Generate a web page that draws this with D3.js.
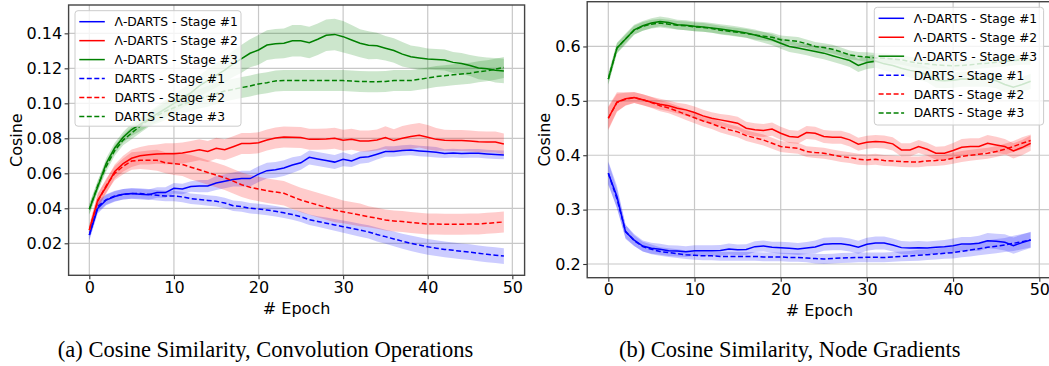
<!DOCTYPE html>
<html>
<head>
<meta charset="utf-8">
<script src="https://cdn.jsdelivr.net/npm/d3@7"></script>
<style>
  body { margin: 0; background: #fff; }
  svg { display: block; }
  text { font-family: 'DejaVu Sans', sans-serif; fill: #000; }
  .caption { font-family: 'Liberation Serif', 'Times New Roman', serif; }
</style>
</head>
<body>
<script>
// epochs 0..49
const epochs = d3.range(50);
const xTicks = [0, 10, 20, 30, 40, 50];

const labels = [
  'Λ-DARTS - Stage #1', 'Λ-DARTS - Stage #2', 'Λ-DARTS - Stage #3',
  'DARTS - Stage #1', 'DARTS - Stage #2', 'DARTS - Stage #3',
];

// (a) convolution operations
const convLambda1 = [0.0247, 0.040, 0.0447, 0.0467, 0.048, 0.0485, 0.048, 0.0478, 0.049, 0.049,
  0.0514, 0.051, 0.0525, 0.0527, 0.0527, 0.0545, 0.0555, 0.0565, 0.057, 0.057,
  0.0595, 0.0615, 0.062, 0.063, 0.0647, 0.066, 0.0691, 0.0682, 0.0673, 0.0664,
  0.068, 0.0671, 0.069, 0.0695, 0.0709, 0.0724, 0.0724, 0.073, 0.0733, 0.0728,
  0.0724, 0.072, 0.0713, 0.0716, 0.0713, 0.0714, 0.0714, 0.071, 0.0707, 0.0705];
const convLambda2 = [0.0276, 0.0447, 0.0523, 0.061, 0.0655, 0.0686, 0.070, 0.0706, 0.071, 0.0712,
  0.0712, 0.0716, 0.0725, 0.0735, 0.0725, 0.0743, 0.0735, 0.0752, 0.077, 0.077,
  0.0775, 0.079, 0.0802, 0.0808, 0.0806, 0.0804, 0.0794, 0.0794, 0.0796, 0.080,
  0.0789, 0.0794, 0.0785, 0.0785, 0.079, 0.0804, 0.0787, 0.080, 0.081, 0.0817,
  0.0806, 0.0794, 0.0789, 0.0787, 0.0787, 0.0785, 0.0781, 0.0779, 0.0779, 0.0768];
const convLambda3 = [0.0394, 0.0523, 0.0657, 0.0745, 0.0806, 0.085, 0.088, 0.091, 0.094, 0.097,
  0.100, 0.103, 0.106, 0.110, 0.113, 0.116, 0.119, 0.1225, 0.1255, 0.1286,
  0.1305, 0.1333, 0.134, 0.1343, 0.1358, 0.1358, 0.1347, 0.1366, 0.1389, 0.1394,
  0.1381, 0.1362, 0.1343, 0.1332, 0.1329, 0.1315, 0.1302, 0.1281, 0.1266, 0.1259,
  0.1253, 0.125, 0.1248, 0.1234, 0.1227, 0.1216, 0.1202, 0.1197, 0.1189, 0.1185];
const convDarts1 = [0.0247, 0.041, 0.045, 0.047, 0.048, 0.0485, 0.0485, 0.048, 0.0475, 0.047,
  0.047, 0.0465, 0.0455, 0.045, 0.0445, 0.044, 0.043, 0.0415, 0.041, 0.040,
  0.0396, 0.039, 0.0383, 0.0374, 0.0364, 0.0352, 0.0335, 0.0325, 0.0315, 0.0305,
  0.0295, 0.0285, 0.0275, 0.0265, 0.025, 0.0238, 0.0225, 0.0212, 0.020, 0.019,
  0.018, 0.0172, 0.0165, 0.016, 0.0154, 0.0149, 0.0143, 0.0137, 0.0132, 0.0127];
const convDarts2 = [0.0276, 0.044, 0.053, 0.060, 0.064, 0.067, 0.0675, 0.0675, 0.0675, 0.066,
  0.0655, 0.065, 0.0635, 0.062, 0.0605, 0.059, 0.0575, 0.0555, 0.0535, 0.052,
  0.051, 0.050, 0.0493, 0.0486, 0.0466, 0.0447, 0.0433, 0.0419, 0.0405, 0.039,
  0.038, 0.0371, 0.0362, 0.0352, 0.0343, 0.0333, 0.0328, 0.0324, 0.0319, 0.0314,
  0.031, 0.031, 0.0309, 0.0309, 0.0309, 0.031, 0.031, 0.0314, 0.0318, 0.0322];
const convDarts3 = [0.0394, 0.053, 0.064, 0.073, 0.079, 0.083, 0.087, 0.0905, 0.093, 0.0955,
  0.0975, 0.0995, 0.101, 0.1025, 0.104, 0.1055, 0.107, 0.108, 0.109, 0.1099,
  0.1111, 0.1118, 0.1128, 0.1131, 0.113, 0.113, 0.113, 0.113, 0.113, 0.113,
  0.113, 0.1127, 0.1125, 0.1124, 0.1124, 0.1125, 0.113, 0.113, 0.113, 0.1137,
  0.1145, 0.1153, 0.1157, 0.1163, 0.1168, 0.1172, 0.118, 0.1186, 0.1195, 0.1205];

// half widths of the shaded bands
const convLambda1Sd = [0.003, 0.003, 0.003, 0.003, 0.003, 0.003, 0.003, 0.003, 0.003, 0.003,
  0.003, 0.003, 0.003, 0.0035, 0.0035, 0.004, 0.004, 0.004, 0.0045, 0.0045,
  0.0045, 0.0045, 0.0045, 0.0045, 0.0045, 0.004, 0.004, 0.004, 0.004, 0.004,
  0.004, 0.0035, 0.0035, 0.0035, 0.003, 0.003, 0.003, 0.003, 0.003, 0.003,
  0.003, 0.003, 0.0025, 0.0025, 0.0025, 0.0025, 0.0025, 0.0025, 0.0025, 0.0025];
const convLambda2Sd = [0.003, 0.004, 0.004, 0.004, 0.0045, 0.005, 0.005, 0.0055, 0.0055, 0.006,
  0.006, 0.006, 0.006, 0.006, 0.006, 0.006, 0.006, 0.006, 0.006, 0.006,
  0.006, 0.006, 0.006, 0.006, 0.006, 0.006, 0.006, 0.006, 0.006, 0.006,
  0.006, 0.006, 0.006, 0.006, 0.006, 0.0065, 0.0065, 0.007, 0.007, 0.007,
  0.007, 0.0065, 0.006, 0.006, 0.006, 0.006, 0.006, 0.006, 0.006, 0.006];
const convLambda3Sd = [0.003, 0.003, 0.003, 0.003, 0.003, 0.0035, 0.004, 0.004, 0.0045, 0.005,
  0.005, 0.0055, 0.006, 0.006, 0.0065, 0.007, 0.007, 0.0075, 0.008, 0.008,
  0.0085, 0.0085, 0.0085, 0.0085, 0.009, 0.009, 0.009, 0.009, 0.009, 0.009,
  0.009, 0.0085, 0.008, 0.008, 0.0075, 0.007, 0.007, 0.007, 0.0065, 0.0065,
  0.006, 0.006, 0.006, 0.006, 0.006, 0.006, 0.0065, 0.0065, 0.007, 0.007];
const convDarts1Sd = [0.003, 0.003, 0.003, 0.003, 0.003, 0.003, 0.003, 0.003, 0.003, 0.003,
  0.003, 0.003, 0.003, 0.003, 0.003, 0.003, 0.003, 0.003, 0.003, 0.003,
  0.003, 0.003, 0.003, 0.003, 0.003, 0.003, 0.003, 0.003, 0.0032, 0.0034,
  0.0035, 0.0036, 0.0037, 0.0038, 0.004, 0.004, 0.0042, 0.0043, 0.0044, 0.0045,
  0.0045, 0.0045, 0.0045, 0.0045, 0.0045, 0.0045, 0.0045, 0.0045, 0.0045, 0.0045];
const convDarts2Sd = [0.003, 0.004, 0.004, 0.004, 0.0045, 0.005, 0.005, 0.0055, 0.006, 0.006,
  0.0065, 0.0065, 0.007, 0.007, 0.007, 0.007, 0.007, 0.007, 0.007, 0.007,
  0.007, 0.007, 0.007, 0.007, 0.007, 0.007, 0.007, 0.007, 0.007, 0.007,
  0.0065, 0.0065, 0.0065, 0.006, 0.006, 0.006, 0.006, 0.006, 0.006, 0.006,
  0.006, 0.006, 0.006, 0.006, 0.006, 0.006, 0.006, 0.006, 0.006, 0.006];
const convDarts3Sd = [0.003, 0.003, 0.003, 0.003, 0.003, 0.0035, 0.004, 0.004, 0.0045, 0.005,
  0.005, 0.005, 0.0055, 0.0055, 0.006, 0.006, 0.006, 0.006, 0.006, 0.006,
  0.006, 0.006, 0.006, 0.006, 0.006, 0.006, 0.006, 0.006, 0.006, 0.006,
  0.006, 0.006, 0.006, 0.006, 0.006, 0.006, 0.006, 0.006, 0.006, 0.006,
  0.006, 0.006, 0.006, 0.006, 0.006, 0.006, 0.006, 0.006, 0.006, 0.006];

// (b) node gradients
const nodeLambda1 = [0.367, 0.324, 0.259, 0.244, 0.233, 0.229, 0.227, 0.2245, 0.2239, 0.2227,
  0.2245, 0.2245, 0.2245, 0.225, 0.2276, 0.226, 0.2265, 0.2319, 0.2331, 0.2307,
  0.230, 0.2288, 0.2276, 0.2295, 0.2313, 0.2362, 0.2374, 0.2374, 0.235, 0.2307,
  0.2362, 0.2386, 0.2386, 0.235, 0.2301, 0.2294, 0.2301, 0.2294, 0.2307, 0.2319,
  0.2337, 0.2368, 0.2368, 0.238, 0.2429, 0.2417, 0.2399, 0.2337, 0.2393, 0.2442];
const nodeLambda2 = [0.468, 0.4976, 0.5037, 0.5062, 0.5019, 0.4976, 0.4939, 0.4908, 0.4865, 0.4834,
  0.4785, 0.4724, 0.468, 0.465, 0.4619, 0.4589, 0.4497, 0.4467, 0.4455, 0.448,
  0.4405, 0.4344, 0.4331, 0.4417, 0.4405, 0.4344, 0.4331, 0.4331, 0.4282, 0.4202,
  0.4239, 0.4252, 0.4245, 0.4209, 0.4098, 0.4098, 0.416, 0.411, 0.4037, 0.4037,
  0.4086, 0.4147, 0.416, 0.416, 0.4221, 0.419, 0.416, 0.408, 0.4141, 0.4221];
const nodeLambda3 = [0.54, 0.597, 0.6136, 0.6307, 0.638, 0.643, 0.646, 0.644, 0.640, 0.639,
  0.637, 0.636, 0.634, 0.632, 0.630, 0.6277, 0.625, 0.621, 0.6167, 0.6123,
  0.606, 0.600, 0.597, 0.5939, 0.5908, 0.5877, 0.583, 0.5785, 0.5742, 0.565,
  0.5705, 0.573, 0.568, 0.565, 0.560, 0.556, 0.553, 0.548, 0.538, 0.537,
  0.538, 0.540, 0.540, 0.540, 0.540, 0.537, 0.530, 0.525, 0.530, 0.536];
const nodeDarts1 = [0.367, 0.320, 0.260, 0.243, 0.232, 0.227, 0.223, 0.221, 0.219, 0.217,
  0.216, 0.215, 0.215, 0.214, 0.214, 0.214, 0.214, 0.214, 0.213, 0.213,
  0.2129, 0.212, 0.212, 0.211, 0.210, 0.2092, 0.210, 0.211, 0.2115, 0.212,
  0.2123, 0.2123, 0.212, 0.213, 0.214, 0.2147, 0.216, 0.2172, 0.2184, 0.2197,
  0.2209, 0.2233, 0.2258, 0.2282, 0.2307, 0.2328, 0.235, 0.238, 0.2411, 0.2442];
const nodeDarts2 = [0.468, 0.497, 0.503, 0.506, 0.502, 0.497, 0.491, 0.487, 0.481, 0.475,
  0.469, 0.463, 0.458, 0.452, 0.447, 0.443, 0.436, 0.432, 0.428, 0.422,
  0.416, 0.4141, 0.4129, 0.4067, 0.4049, 0.4037, 0.4006, 0.3976, 0.3957, 0.3926,
  0.3914, 0.3926, 0.3902, 0.3896, 0.3883, 0.3877, 0.3877, 0.3896, 0.3902, 0.3914,
  0.3945, 0.3976, 0.400, 0.4018, 0.4037, 0.4067, 0.411, 0.416, 0.4221, 0.427];
const nodeDarts3 = [0.54, 0.597, 0.614, 0.630, 0.637, 0.641, 0.643, 0.641, 0.639, 0.638,
  0.636, 0.635, 0.633, 0.630, 0.628, 0.626, 0.624, 0.621, 0.619, 0.617,
  0.6123, 0.611, 0.6092, 0.605, 0.600, 0.598, 0.595, 0.590, 0.5846, 0.582,
  0.5804, 0.579, 0.5785, 0.577, 0.5754, 0.572, 0.5693, 0.568, 0.5662, 0.565,
  0.5644, 0.565, 0.5662, 0.568, 0.5693, 0.571, 0.5723, 0.574, 0.5754, 0.5754];

const nodeLambda1Sd = [0.022, 0.02, 0.013, 0.011, 0.01, 0.01, 0.01, 0.01, 0.01, 0.01,
  0.01, 0.01, 0.01, 0.01, 0.01, 0.01, 0.01, 0.01, 0.01, 0.01,
  0.011, 0.011, 0.011, 0.011, 0.012, 0.012, 0.012, 0.012, 0.012, 0.012,
  0.012, 0.012, 0.012, 0.012, 0.012, 0.012, 0.012, 0.012, 0.012, 0.012,
  0.013, 0.013, 0.013, 0.014, 0.014, 0.014, 0.015, 0.015, 0.015, 0.015];
const nodeLambda2Sd = [0.022, 0.018, 0.012, 0.01, 0.01, 0.01, 0.01, 0.01, 0.01, 0.011,
  0.011, 0.011, 0.011, 0.011, 0.012, 0.012, 0.012, 0.012, 0.012, 0.012,
  0.012, 0.012, 0.012, 0.012, 0.012, 0.012, 0.012, 0.012, 0.012, 0.012,
  0.012, 0.012, 0.012, 0.012, 0.012, 0.012, 0.012, 0.012, 0.012, 0.013,
  0.014, 0.015, 0.015, 0.015, 0.015, 0.015, 0.014, 0.014, 0.014, 0.014];
const nodeLambda3Sd = [0.01, 0.01, 0.01, 0.009, 0.009, 0.009, 0.009, 0.009, 0.009, 0.009,
  0.009, 0.009, 0.009, 0.009, 0.009, 0.009, 0.009, 0.01, 0.01, 0.01,
  0.01, 0.01, 0.01, 0.01, 0.011, 0.011, 0.011, 0.011, 0.012, 0.012,
  0.012, 0.012, 0.012, 0.013, 0.013, 0.013, 0.014, 0.014, 0.014, 0.014,
  0.014, 0.014, 0.014, 0.014, 0.014, 0.014, 0.014, 0.014, 0.014, 0.014];
const nodeDarts1Sd = [0.02, 0.018, 0.012, 0.01, 0.009, 0.009, 0.008, 0.008, 0.008, 0.008,
  0.008, 0.008, 0.008, 0.008, 0.008, 0.008, 0.008, 0.008, 0.008, 0.008,
  0.008, 0.008, 0.008, 0.008, 0.009, 0.009, 0.009, 0.009, 0.009, 0.009,
  0.009, 0.009, 0.009, 0.009, 0.009, 0.009, 0.01, 0.01, 0.01, 0.01,
  0.011, 0.011, 0.012, 0.012, 0.013, 0.013, 0.013, 0.014, 0.014, 0.014];
const nodeDarts2Sd = [0.02, 0.016, 0.012, 0.01, 0.01, 0.01, 0.01, 0.01, 0.01, 0.01,
  0.01, 0.01, 0.01, 0.01, 0.01, 0.01, 0.01, 0.01, 0.01, 0.01,
  0.01, 0.01, 0.01, 0.01, 0.01, 0.01, 0.01, 0.01, 0.01, 0.01,
  0.01, 0.01, 0.01, 0.01, 0.01, 0.01, 0.01, 0.01, 0.01, 0.01,
  0.01, 0.01, 0.01, 0.01, 0.01, 0.01, 0.01, 0.01, 0.011, 0.011];
const nodeDarts3Sd = [0.01, 0.009, 0.008, 0.008, 0.008, 0.008, 0.008, 0.008, 0.008, 0.008,
  0.008, 0.008, 0.008, 0.008, 0.008, 0.008, 0.008, 0.008, 0.008, 0.008,
  0.008, 0.008, 0.008, 0.008, 0.008, 0.008, 0.008, 0.008, 0.008, 0.008,
  0.009, 0.009, 0.009, 0.009, 0.009, 0.009, 0.009, 0.009, 0.009, 0.009,
  0.009, 0.009, 0.009, 0.009, 0.009, 0.009, 0.009, 0.009, 0.009, 0.009];

const colors = ['#0000ff', '#ff0000', '#008000', '#0000ff', '#ff0000', '#008000'];
const dashed = [false, false, false, true, true, true];

const panels = [
  {
    id: 'a',
    left: 68.6, right: 524.6, top: 5, bottom: 275.3,
    yDomain: [0.0017, 0.1562],
    yTicks: [0.02, 0.04, 0.06, 0.08, 0.10, 0.12, 0.14],
    yFormat: d3.format('.2f'),
    series: [convLambda1, convLambda2, convLambda3, convDarts1, convDarts2, convDarts3],
    spread: [convLambda1Sd, convLambda2Sd, convLambda3Sd, convDarts1Sd, convDarts2Sd, convDarts3Sd],
    legend: { x: 75, y: 10.7, w: 166, h: 115.5 },
    yLabelX: 21.5,
    caption: '(a) Cosine Similarity, Convolution Operations',
    captionX: 265.5,
  },
  {
    id: 'b',
    left: 587.2, right: 1051.8, top: 1.7, bottom: 277.7,
    yDomain: [0.1748, 0.6823],
    yTicks: [0.2, 0.3, 0.4, 0.5, 0.6],
    yFormat: d3.format('.1f'),
    series: [nodeLambda1, nodeLambda2, nodeLambda3, nodeDarts1, nodeDarts2, nodeDarts3],
    spread: [nodeLambda1Sd, nodeLambda2Sd, nodeLambda3Sd, nodeDarts1Sd, nodeDarts2Sd, nodeDarts3Sd],
    legend: { x: 874.3, y: 7.3, w: 169.3, h: 117.7 },
    yLabelX: 550,
    caption: '(b) Cosine Similarity, Node Gradients',
    captionX: 789.7,
  },
];

const svg = d3.select('body')
  .append('svg')
  .attr('width', 1049)
  .attr('height', 366);

panels.forEach((p) => {
  const x = d3.scaleLinear().domain([-2.45, 51.45]).range([p.left, p.right]);
  const y = d3.scaleLinear().domain(p.yDomain).range([p.bottom, p.top]);
  const g = svg.append('g');

  svg.append('clipPath')
    .attr('id', `clip-${p.id}`)
    .append('rect')
    .attr('x', p.left)
    .attr('y', p.top)
    .attr('width', p.right - p.left)
    .attr('height', p.bottom - p.top);

  // grid
  g.append('g').selectAll('line')
    .data(xTicks)
    .enter().append('line')
    .attr('x1', (d) => x(d))
    .attr('x2', (d) => x(d))
    .attr('y1', p.top)
    .attr('y2', p.bottom)
    .attr('stroke', '#c8c8c8')
    .attr('stroke-width', 1.2);
  g.append('g').selectAll('line')
    .data(p.yTicks)
    .enter().append('line')
    .attr('x1', p.left)
    .attr('x2', p.right)
    .attr('y1', (d) => y(d))
    .attr('y2', (d) => y(d))
    .attr('stroke', '#c8c8c8')
    .attr('stroke-width', 1.2);

  const plot = g.append('g').attr('clip-path', `url(#clip-${p.id})`);

  // shaded bands first, lines on top
  p.series.forEach((vals, i) => {
    const area = d3.area()
      .x((d) => x(d))
      .y0((d) => y(vals[d] - p.spread[i][d]))
      .y1((d) => y(vals[d] + p.spread[i][d]));
    plot.append('path')
      .datum(epochs)
      .attr('d', area)
      .attr('fill', colors[i])
      .attr('fill-opacity', 0.2);
  });

  p.series.forEach((vals, i) => {
    const line = d3.line()
      .x((d) => x(d))
      .y((d) => y(vals[d]));
    plot.append('path')
      .datum(epochs)
      .attr('d', line)
      .attr('fill', 'none')
      .attr('stroke', colors[i])
      .attr('stroke-width', 1.5)
      .attr('stroke-dasharray', dashed[i] ? '5,2.5' : null);
  });

  // axes
  const xAxis = d3.axisBottom(x)
    .tickValues(xTicks)
    .tickSize(4)
    .tickSizeOuter(0)
    .tickPadding(2);
  const gx = g.append('g')
    .attr('transform', `translate(0,${p.bottom})`)
    .call(xAxis);

  const yAxis = d3.axisLeft(y)
    .tickValues(p.yTicks)
    .tickFormat(p.yFormat)
    .tickSize(4)
    .tickSizeOuter(0)
    .tickPadding(2.5);
  const gy = g.append('g')
    .attr('transform', `translate(${p.left},0)`)
    .call(yAxis);

  [gx, gy].forEach((a) => {
    a.select('.domain').remove();
    a.selectAll('line').attr('stroke', '#333').attr('stroke-width', 1.1);
    a.selectAll('text')
      .style('font-family', "'DejaVu Sans', sans-serif")
      .style('font-size', '16px')
      .attr('fill', '#000');
  });

  // frame
  g.append('rect')
    .attr('x', p.left)
    .attr('y', p.top)
    .attr('width', p.right - p.left)
    .attr('height', p.bottom - p.top)
    .attr('fill', 'none')
    .attr('stroke', '#444')
    .attr('stroke-width', 1.4);

  // axis labels
  g.append('text')
    .attr('x', (p.left + p.right) / 2)
    .attr('y', p.bottom + 38.7)
    .attr('text-anchor', 'middle')
    .style('font-size', '16px')
    .text('# Epoch');

  g.append('text')
    .attr('transform', `translate(${p.yLabelX},${(p.top + p.bottom) / 2}) rotate(-90)`)
    .attr('text-anchor', 'middle')
    .style('font-size', '16px')
    .text('Cosine');

  // legend
  const L = p.legend;
  const leg = g.append('g');
  leg.append('rect')
    .attr('x', L.x)
    .attr('y', L.y)
    .attr('width', L.w)
    .attr('height', L.h)
    .attr('rx', 3)
    .attr('fill', '#fff')
    .attr('fill-opacity', 0.8)
    .attr('stroke', '#cccccc')
    .attr('stroke-width', 1);

  const item = leg.selectAll('.item')
    .data(labels)
    .enter().append('g')
    .attr('class', 'item')
    .attr('transform', (d, i) => `translate(${L.x},${L.y + 11 + i * 18.95})`);

  item.append('line')
    .attr('x1', 4.3)
    .attr('x2', 29.8)
    .attr('y1', 0)
    .attr('y2', 0)
    .attr('stroke', (d, i) => colors[i])
    .attr('stroke-width', 1.5)
    .attr('stroke-dasharray', (d, i) => (dashed[i] ? '5,2.5' : null));

  item.append('text')
    .attr('x', 39.5)
    .attr('y', 0)
    .attr('dy', '0.36em')
    .style('font-size', '12.3px')
    .text((d) => d);

  // caption
  svg.append('text')
    .attr('class', 'caption')
    .attr('x', p.captionX)
    .attr('y', 357)
    .attr('text-anchor', 'middle')
    .style('font-size', '22.5px')
    .text(p.caption);
});
</script>
</body>
</html>
